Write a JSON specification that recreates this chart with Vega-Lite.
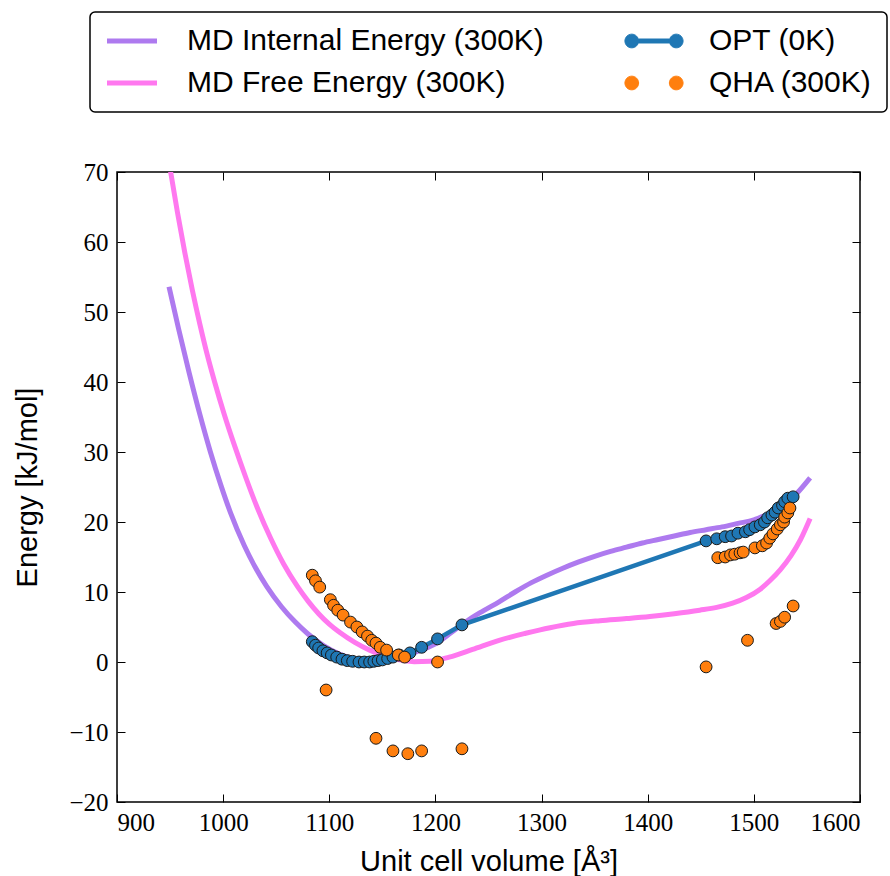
{
  "$schema": "https://vega.github.io/schema/vega-lite/v6.json",
  "width": 743,
  "height": 630,
  "autosize": {"type": "none"},
  "padding": {"left": 117, "top": 172, "right": 30, "bottom": 74},
  "background": "white",
  "config": {
    "view": {"stroke": "black", "strokeWidth": 1.5},
    "axis": {
      "grid": false,
      "domain": false,
      "tickColor": "black",
      "tickWidth": 1,
      "tickSize": -8,
      "labelFont": "Liberation Serif",
      "labelFontSize": 25,
      "labelColor": "black",
      "titleFont": "Liberation Sans",
      "titleFontSize": 29,
      "titleFontWeight": "normal",
      "titleColor": "black"
    }
  },
  "data": {
    "values": [
      {"series": "MD Internal Energy (300K)", "V": 949, "E": 53.6},
      {"series": "MD Internal Energy (300K)", "V": 958, "E": 47.6},
      {"series": "MD Internal Energy (300K)", "V": 968, "E": 41.3},
      {"series": "MD Internal Energy (300K)", "V": 978, "E": 35.4},
      {"series": "MD Internal Energy (300K)", "V": 988, "E": 30.0},
      {"series": "MD Internal Energy (300K)", "V": 998, "E": 25.2},
      {"series": "MD Internal Energy (300K)", "V": 1007, "E": 21.3},
      {"series": "MD Internal Energy (300K)", "V": 1020, "E": 16.6},
      {"series": "MD Internal Energy (300K)", "V": 1030, "E": 13.6},
      {"series": "MD Internal Energy (300K)", "V": 1041, "E": 10.8},
      {"series": "MD Internal Energy (300K)", "V": 1055, "E": 7.9},
      {"series": "MD Internal Energy (300K)", "V": 1068, "E": 5.7},
      {"series": "MD Internal Energy (300K)", "V": 1080, "E": 4.0},
      {"series": "MD Internal Energy (300K)", "V": 1095, "E": 2.3},
      {"series": "MD Internal Energy (300K)", "V": 1110, "E": 1.1},
      {"series": "MD Internal Energy (300K)", "V": 1125, "E": 0.4},
      {"series": "MD Internal Energy (300K)", "V": 1140, "E": 0.1},
      {"series": "MD Internal Energy (300K)", "V": 1155, "E": 0.3},
      {"series": "MD Internal Energy (300K)", "V": 1170, "E": 0.8},
      {"series": "MD Internal Energy (300K)", "V": 1185, "E": 1.6},
      {"series": "MD Internal Energy (300K)", "V": 1200, "E": 2.6},
      {"series": "MD Internal Energy (300K)", "V": 1215, "E": 4.2},
      {"series": "MD Internal Energy (300K)", "V": 1230, "E": 5.9},
      {"series": "MD Internal Energy (300K)", "V": 1245, "E": 7.3},
      {"series": "MD Internal Energy (300K)", "V": 1260, "E": 8.6},
      {"series": "MD Internal Energy (300K)", "V": 1275, "E": 10.0},
      {"series": "MD Internal Energy (300K)", "V": 1290, "E": 11.3},
      {"series": "MD Internal Energy (300K)", "V": 1305, "E": 12.4},
      {"series": "MD Internal Energy (300K)", "V": 1320, "E": 13.4},
      {"series": "MD Internal Energy (300K)", "V": 1335, "E": 14.3},
      {"series": "MD Internal Energy (300K)", "V": 1350, "E": 15.1},
      {"series": "MD Internal Energy (300K)", "V": 1365, "E": 15.8},
      {"series": "MD Internal Energy (300K)", "V": 1380, "E": 16.4},
      {"series": "MD Internal Energy (300K)", "V": 1395, "E": 17.0},
      {"series": "MD Internal Energy (300K)", "V": 1410, "E": 17.5},
      {"series": "MD Internal Energy (300K)", "V": 1425, "E": 18.0},
      {"series": "MD Internal Energy (300K)", "V": 1440, "E": 18.5},
      {"series": "MD Internal Energy (300K)", "V": 1455, "E": 18.9},
      {"series": "MD Internal Energy (300K)", "V": 1470, "E": 19.3},
      {"series": "MD Internal Energy (300K)", "V": 1485, "E": 19.8},
      {"series": "MD Internal Energy (300K)", "V": 1500, "E": 20.3},
      {"series": "MD Internal Energy (300K)", "V": 1510, "E": 20.9},
      {"series": "MD Internal Energy (300K)", "V": 1520, "E": 21.6},
      {"series": "MD Internal Energy (300K)", "V": 1530, "E": 22.6},
      {"series": "MD Internal Energy (300K)", "V": 1540, "E": 24.0},
      {"series": "MD Internal Energy (300K)", "V": 1553, "E": 26.3},

      {"series": "MD Free Energy (300K)", "V": 950, "E": 70.5},
      {"series": "MD Free Energy (300K)", "V": 957, "E": 64.2},
      {"series": "MD Free Energy (300K)", "V": 964, "E": 58.4},
      {"series": "MD Free Energy (300K)", "V": 971, "E": 53.1},
      {"series": "MD Free Energy (300K)", "V": 978, "E": 48.3},
      {"series": "MD Free Energy (300K)", "V": 985, "E": 43.9},
      {"series": "MD Free Energy (300K)", "V": 992, "E": 40.0},
      {"series": "MD Free Energy (300K)", "V": 1001, "E": 35.4},
      {"series": "MD Free Energy (300K)", "V": 1011, "E": 30.8},
      {"series": "MD Free Energy (300K)", "V": 1021, "E": 26.5},
      {"series": "MD Free Energy (300K)", "V": 1032, "E": 22.1},
      {"series": "MD Free Energy (300K)", "V": 1045, "E": 17.6},
      {"series": "MD Free Energy (300K)", "V": 1057, "E": 14.0},
      {"series": "MD Free Energy (300K)", "V": 1070, "E": 10.8},
      {"series": "MD Free Energy (300K)", "V": 1080, "E": 8.7},
      {"series": "MD Free Energy (300K)", "V": 1090, "E": 6.9},
      {"series": "MD Free Energy (300K)", "V": 1100, "E": 5.4},
      {"series": "MD Free Energy (300K)", "V": 1110, "E": 4.2},
      {"series": "MD Free Energy (300K)", "V": 1124, "E": 2.8},
      {"series": "MD Free Energy (300K)", "V": 1138, "E": 1.7},
      {"series": "MD Free Energy (300K)", "V": 1152, "E": 0.9},
      {"series": "MD Free Energy (300K)", "V": 1166, "E": 0.3},
      {"series": "MD Free Energy (300K)", "V": 1180, "E": 0.05},
      {"series": "MD Free Energy (300K)", "V": 1195, "E": 0.1},
      {"series": "MD Free Energy (300K)", "V": 1213, "E": 0.7},
      {"series": "MD Free Energy (300K)", "V": 1235, "E": 1.8},
      {"series": "MD Free Energy (300K)", "V": 1260, "E": 3.1},
      {"series": "MD Free Energy (300K)", "V": 1285, "E": 4.1},
      {"series": "MD Free Energy (300K)", "V": 1308, "E": 4.9},
      {"series": "MD Free Energy (300K)", "V": 1330, "E": 5.5},
      {"series": "MD Free Energy (300K)", "V": 1355, "E": 5.9},
      {"series": "MD Free Energy (300K)", "V": 1380, "E": 6.2},
      {"series": "MD Free Energy (300K)", "V": 1402, "E": 6.5},
      {"series": "MD Free Energy (300K)", "V": 1425, "E": 6.9},
      {"series": "MD Free Energy (300K)", "V": 1449, "E": 7.4},
      {"series": "MD Free Energy (300K)", "V": 1465, "E": 7.8},
      {"series": "MD Free Energy (300K)", "V": 1480, "E": 8.4},
      {"series": "MD Free Energy (300K)", "V": 1493, "E": 9.2},
      {"series": "MD Free Energy (300K)", "V": 1506, "E": 10.4},
      {"series": "MD Free Energy (300K)", "V": 1515, "E": 11.6},
      {"series": "MD Free Energy (300K)", "V": 1525, "E": 13.2},
      {"series": "MD Free Energy (300K)", "V": 1535, "E": 15.2},
      {"series": "MD Free Energy (300K)", "V": 1544, "E": 17.5},
      {"series": "MD Free Energy (300K)", "V": 1553, "E": 20.5},

      {"series": "OPT (0K)", "V": 1084, "E": 2.9},
      {"series": "OPT (0K)", "V": 1087, "E": 2.4},
      {"series": "OPT (0K)", "V": 1090, "E": 2.0},
      {"series": "OPT (0K)", "V": 1094, "E": 1.6},
      {"series": "OPT (0K)", "V": 1098, "E": 1.3},
      {"series": "OPT (0K)", "V": 1102, "E": 1.0},
      {"series": "OPT (0K)", "V": 1107, "E": 0.7},
      {"series": "OPT (0K)", "V": 1112, "E": 0.4},
      {"series": "OPT (0K)", "V": 1117, "E": 0.2},
      {"series": "OPT (0K)", "V": 1122, "E": 0.1},
      {"series": "OPT (0K)", "V": 1128, "E": 0.0},
      {"series": "OPT (0K)", "V": 1133, "E": 0.0},
      {"series": "OPT (0K)", "V": 1138, "E": 0.0},
      {"series": "OPT (0K)", "V": 1142, "E": 0.1},
      {"series": "OPT (0K)", "V": 1146, "E": 0.2},
      {"series": "OPT (0K)", "V": 1150, "E": 0.3},
      {"series": "OPT (0K)", "V": 1155, "E": 0.5},
      {"series": "OPT (0K)", "V": 1160, "E": 0.7},
      {"series": "OPT (0K)", "V": 1166, "E": 1.0},
      {"series": "OPT (0K)", "V": 1176, "E": 1.3},
      {"series": "OPT (0K)", "V": 1187, "E": 2.1},
      {"series": "OPT (0K)", "V": 1202, "E": 3.3},
      {"series": "OPT (0K)", "V": 1225, "E": 5.3},
      {"series": "OPT (0K)", "V": 1455, "E": 17.3},
      {"series": "OPT (0K)", "V": 1465, "E": 17.6},
      {"series": "OPT (0K)", "V": 1473, "E": 17.9},
      {"series": "OPT (0K)", "V": 1479, "E": 18.0},
      {"series": "OPT (0K)", "V": 1485, "E": 18.4},
      {"series": "OPT (0K)", "V": 1492, "E": 18.6},
      {"series": "OPT (0K)", "V": 1496, "E": 18.9},
      {"series": "OPT (0K)", "V": 1501, "E": 19.3},
      {"series": "OPT (0K)", "V": 1506, "E": 19.6},
      {"series": "OPT (0K)", "V": 1510, "E": 20.0},
      {"series": "OPT (0K)", "V": 1513, "E": 20.6},
      {"series": "OPT (0K)", "V": 1517, "E": 21.0},
      {"series": "OPT (0K)", "V": 1520, "E": 21.4},
      {"series": "OPT (0K)", "V": 1523, "E": 22.0},
      {"series": "OPT (0K)", "V": 1527, "E": 22.4},
      {"series": "OPT (0K)", "V": 1529, "E": 22.9},
      {"series": "OPT (0K)", "V": 1532, "E": 23.4},
      {"series": "OPT (0K)", "V": 1537, "E": 23.6},

      {"series": "QHA (300K)", "V": 1084, "E": 12.4},
      {"series": "QHA (300K)", "V": 1087, "E": 11.6},
      {"series": "QHA (300K)", "V": 1091, "E": 10.7},
      {"series": "QHA (300K)", "V": 1097, "E": -4.0},
      {"series": "QHA (300K)", "V": 1101, "E": 8.9},
      {"series": "QHA (300K)", "V": 1104, "E": 8.1},
      {"series": "QHA (300K)", "V": 1108, "E": 7.4},
      {"series": "QHA (300K)", "V": 1113, "E": 6.7},
      {"series": "QHA (300K)", "V": 1120, "E": 5.7},
      {"series": "QHA (300K)", "V": 1126, "E": 5.0},
      {"series": "QHA (300K)", "V": 1131, "E": 4.3},
      {"series": "QHA (300K)", "V": 1136, "E": 3.7},
      {"series": "QHA (300K)", "V": 1140, "E": 3.1},
      {"series": "QHA (300K)", "V": 1144, "E": 2.7},
      {"series": "QHA (300K)", "V": 1144, "E": -10.9},
      {"series": "QHA (300K)", "V": 1148, "E": 2.1},
      {"series": "QHA (300K)", "V": 1154, "E": 1.7},
      {"series": "QHA (300K)", "V": 1160, "E": -12.7},
      {"series": "QHA (300K)", "V": 1165, "E": 1.0},
      {"series": "QHA (300K)", "V": 1171, "E": 0.7},
      {"series": "QHA (300K)", "V": 1174, "E": -13.1},
      {"series": "QHA (300K)", "V": 1187, "E": -12.7},
      {"series": "QHA (300K)", "V": 1202, "E": 0.0},
      {"series": "QHA (300K)", "V": 1225, "E": -12.4},
      {"series": "QHA (300K)", "V": 1455, "E": -0.7},
      {"series": "QHA (300K)", "V": 1466, "E": 14.9},
      {"series": "QHA (300K)", "V": 1473, "E": 15.0},
      {"series": "QHA (300K)", "V": 1478, "E": 15.3},
      {"series": "QHA (300K)", "V": 1482, "E": 15.4},
      {"series": "QHA (300K)", "V": 1487, "E": 15.6},
      {"series": "QHA (300K)", "V": 1490, "E": 15.7},
      {"series": "QHA (300K)", "V": 1494, "E": 3.1},
      {"series": "QHA (300K)", "V": 1501, "E": 16.3},
      {"series": "QHA (300K)", "V": 1508, "E": 16.6},
      {"series": "QHA (300K)", "V": 1512, "E": 17.0},
      {"series": "QHA (300K)", "V": 1515, "E": 17.7},
      {"series": "QHA (300K)", "V": 1518, "E": 18.3},
      {"series": "QHA (300K)", "V": 1521, "E": 5.5},
      {"series": "QHA (300K)", "V": 1522, "E": 19.0},
      {"series": "QHA (300K)", "V": 1525, "E": 5.8},
      {"series": "QHA (300K)", "V": 1525, "E": 19.6},
      {"series": "QHA (300K)", "V": 1528, "E": 20.0},
      {"series": "QHA (300K)", "V": 1529, "E": 6.4},
      {"series": "QHA (300K)", "V": 1529, "E": 20.7},
      {"series": "QHA (300K)", "V": 1532, "E": 21.3},
      {"series": "QHA (300K)", "V": 1534, "E": 22.0},
      {"series": "QHA (300K)", "V": 1537, "E": 8.0}
    ]
  },
  "layer": [
    {
      "transform": [{"filter": "datum.series === 'MD Internal Energy (300K)' || datum.series === 'MD Free Energy (300K)'"}],
      "mark": {"type": "line", "strokeWidth": 5, "clip": true, "interpolate": "monotone"},
      "encoding": {
        "x": {"field": "V", "type": "quantitative",
              "scale": {"domain": [900, 1600], "nice": false, "zero": false},
              "axis": {"orient": "bottom", "values": [900, 1000, 1100, 1200, 1300, 1400, 1500, 1600], "format": "d",
                       "title": "Unit cell volume [Å³]", "labelPadding": 16, "titlePadding": 12}},
        "y": {"field": "E", "type": "quantitative",
              "scale": {"domain": [-20, 70], "nice": false, "zero": false},
              "axis": {"orient": "left", "values": [-20, -10, 0, 10, 20, 30, 40, 50, 60, 70], "format": "d",
                       "title": "Energy [kJ/mol]", "labelPadding": 17, "titlePadding": 26}},
        "color": {
          "field": "series", "type": "nominal",
          "scale": {
            "domain": ["MD Internal Energy (300K)", "MD Free Energy (300K)", "OPT (0K)", "QHA (300K)"],
            "range": ["#ae7aef", "#ff78ef", "#1f77b4", "#ff7f0e"]
          },
          "legend": {
            "orient": "none",
            "legendX": -27,
            "legendY": -160,
            "columns": 2,
            "title": null,
            "labelFont": "Liberation Sans",
            "labelFontSize": 30,
            "labelColor": "black",
            "labelLimit": 500,
            "labelOffset": 40,
            "symbolOffset": 13,
            "columnPadding": 78,
            "rowPadding": 12,
            "padding": 14,
            "symbolSize": 3000,
            "symbolType": "stroke",
            "strokeColor": "black",
            "fillColor": "white",
            "cornerRadius": 5,
            "encode": {
              "legend": {"update": {"strokeWidth": {"value": 1.5}}},
              "symbols": {
                "update": {
                  "shape": {"signal": "datum.value === 'OPT (0K)' ? 'M-0.54,-0.07 L0.54,-0.07 L0.54,0.07 L-0.54,0.07 Z M-1.02,0 a0.24,0.24 0 1,0 0.48,0 a0.24,0.24 0 1,0 -0.48,0 Z M0.54,0 a0.24,0.24 0 1,0 0.48,0 a0.24,0.24 0 1,0 -0.48,0 Z' : datum.value === 'QHA (300K)' ? 'M-1.02,0 a0.24,0.24 0 1,0 0.48,0 a0.24,0.24 0 1,0 -0.48,0 Z M0.54,0 a0.24,0.24 0 1,0 0.48,0 a0.24,0.24 0 1,0 -0.48,0 Z' : 'stroke'"},
                  "fill": {"signal": "datum.value === 'OPT (0K)' ? '#1f77b4' : datum.value === 'QHA (300K)' ? '#ff7f0e' : 'transparent'"},
                  "stroke": {"signal": "datum.value === 'MD Internal Energy (300K)' ? '#ae7aef' : datum.value === 'MD Free Energy (300K)' ? '#ff78ef' : '#222222'"},
                  "strokeWidth": {"signal": "datum.value === 'OPT (0K)' || datum.value === 'QHA (300K)' ? 1 : 5"},
                  "size": {"signal": "datum.value === 'OPT (0K)' || datum.value === 'QHA (300K)' ? 3249 : 2500"},
                  "opacity": {"value": 1}
                }
              }
            }
          }
        }
      }
    },
    {
      "transform": [{"filter": "datum.series === 'OPT (0K)'"}],
      "mark": {"type": "line", "strokeWidth": 4.5},
      "encoding": {
        "x": {"field": "V", "type": "quantitative", "axis": null},
        "y": {"field": "E", "type": "quantitative", "axis": null},
        "color": {"field": "series", "type": "nominal"}
      }
    },
    {
      "transform": [{"filter": "datum.series === 'OPT (0K)'"}],
      "mark": {"type": "point", "filled": true, "size": 140, "stroke": "#1a1a1a", "strokeWidth": 1, "opacity": 1},
      "encoding": {
        "x": {"field": "V", "type": "quantitative", "axis": null},
        "y": {"field": "E", "type": "quantitative", "axis": null},
        "color": {"field": "series", "type": "nominal"}
      }
    },
    {
      "transform": [{"filter": "datum.series === 'QHA (300K)'"}],
      "mark": {"type": "point", "filled": true, "size": 140, "stroke": "#1a1a1a", "strokeWidth": 1, "opacity": 1},
      "encoding": {
        "x": {"field": "V", "type": "quantitative",
              "axis": {"orient": "top", "values": [900, 1000, 1100, 1200, 1300, 1400, 1500, 1600], "labels": false, "title": null}},
        "y": {"field": "E", "type": "quantitative",
              "axis": {"orient": "right", "values": [-20, -10, 0, 10, 20, 30, 40, 50, 60, 70], "labels": false, "title": null}},
        "color": {"field": "series", "type": "nominal"}
      }
    }
  ],
  "resolve": {"axis": {"x": "independent", "y": "independent"}}
}
